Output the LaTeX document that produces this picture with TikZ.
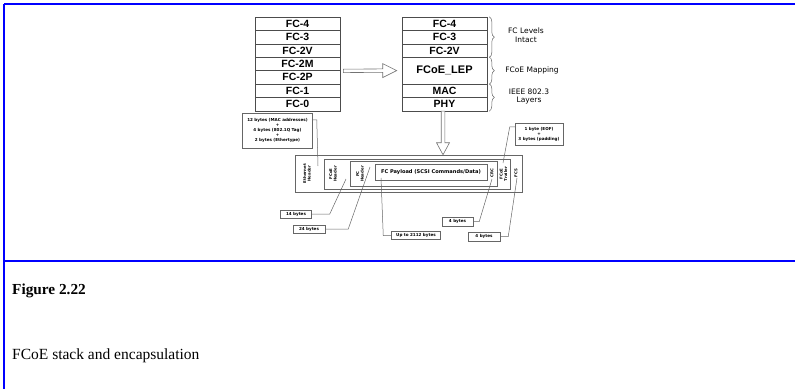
\documentclass[tikz,border=0pt]{standalone}
\usepackage{fontspec}
\setmainfont{Liberation Serif}
\newfontfamily\arialf{Liberation Sans}
\newfontfamily\handf{DejaVu Sans}
\usetikzlibrary{decorations.pathreplacing,calc}
\definecolor{bordblue}{RGB}{0,0,255}
\tikzset{
  layer/.style={draw=black!70, line width=0.6pt, minimum width=85, minimum height=13.4, inner sep=0pt,
    font=\arialf\bfseries\fontsize{10.5}{12}\selectfont},
  blockarrow/.style={draw=black!55, line width=0.6pt, fill=white},
  bracestyle/.style={draw=black!60, line width=0.5pt, decorate, decoration={brace, amplitude=5pt}},
  bracelab/.style={font=\handf\fontsize{7.5}{8.7}\selectfont, align=center, inner sep=0pt},
  framebox/.style={draw=black!60, line width=0.5pt, inner sep=0pt},
  vlab/.style={font=\handf\bfseries\fontsize{3.9}{4.5}\selectfont, align=center, rotate=90, inner sep=0pt},
  tag/.style={draw=black!60, line width=0.5pt, font=\handf\bfseries\fontsize{4.1}{5.1}\selectfont, align=center, inner sep=1pt},
  lead/.style={draw=black!60, line width=0.5pt},
  blueline/.style={draw=bordblue, line width=2pt}
}
\begin{document}
\begin{tikzpicture}[x=1pt,y=-1pt]
\useasboundingbox (0,0) rectangle (795,389);
% blue border lines
\draw[blueline] (4,4) -- (795,4);
\draw[blueline] (4,4) -- (4,389);
\draw[blueline] (4,260.5) -- (795,260.5);

% left stack
\node[layer] (l1) at (297.5,23.7) {FC-4};
\node[layer] (l2) at (297.5,37.1) {FC-3};
\node[layer] (l3) at (297.5,50.5) {FC-2V};
\node[layer] (l4) at (297.5,63.9) {FC-2M};
\node[layer] (l5) at (297.5,77.3) {FC-2P};
\node[layer] (l6) at (297.5,90.7) {FC-1};
\node[layer] (l7) at (297.5,104.1) {FC-0};

% right stack
\node[layer] (r1) at (444.5,23.7) {FC-4};
\node[layer] (r2) at (444.5,37.1) {FC-3};
\node[layer] (r3) at (444.5,50.5) {FC-2V};
\node[layer, minimum height=26.8, font=\arialf\bfseries\fontsize{11}{13}\selectfont] (r4) at (444.5,70.6) {FCoE\_LEP};
\node[layer] (r5) at (444.5,90.7) {MAC};
\node[layer] (r6) at (444.5,104.1) {PHY};

% right hollow arrow
\coordinate (ra1) at ($(l4.south east)+(3,0)$);
\coordinate (ra2) at ($(r4.west)+(-5,0)$);
\draw[blockarrow] ($(ra1)+(0,-1.7)$) -- ($(ra2)+(-14,-1.7)$) -- ($(ra2)+(-14,-7)$) -- (ra2)
  -- ($(ra2)+(-14,7)$) -- ($(ra2)+(-14,1.7)$) -- ($(ra1)+(0,1.7)$) -- cycle;

% braces and labels
\draw[bracestyle] ([xshift=2]r1.north east) -- ([xshift=2]r3.south east);
\draw[bracestyle] ([xshift=2]r4.north east) -- ([xshift=2]r4.south east);
\draw[bracestyle] ([xshift=2]r5.north east) -- ([xshift=2]r6.south east);
\node[bracelab] (b1) at (526,35) {FC Levels\\Intact};
\node[bracelab] (b2) at (532,70.5) {FCoE Mapping};
\node[bracelab] (b3) at (529,96.5) {IEEE 802.3\\Layers};

% frame
\node[framebox, minimum width=227, minimum height=37] (eth) at (408.5,173.5) {};
\node[framebox, minimum width=186, minimum height=30] (fcoe) at (417,174) {};
\node[framebox, minimum width=147, minimum height=25] (fcb) at (423.5,174) {};
\node[framebox, minimum width=112, minimum height=16, font=\handf\bfseries\fontsize{5.1}{6}\selectfont] (pay) at (431,172.5) {FC Payload (SCSI Commands/Data)};
\node[vlab] (ethh) at (307,173.5) {Ethernet\\Header};
\node[vlab] (fcoeh) at (333,174) {FCoE\\Header};
\node[vlab] (fch) at (360,174) {FC\\Header};
\node[vlab] (crc) at (492,173) {CRC};
\node[vlab] (fcoet) at (503.5,174) {FCoE\\Trailer};
\node[vlab] (fcs) at (516,173) {FCS};

% down hollow arrow
\coordinate (da1) at ($(r6.south)+(-1.5,0)$);
\coordinate (da2) at ($(eth.north)+(34.5,0)$);
\draw[blockarrow] ($(da1)+(-1.8,0)$) -- ($(da2)+(-1.8,-12)$) -- ($(da2)+(-6.5,-12)$) -- (da2)
  -- ($(da2)+(6.5,-12)$) -- ($(da2)+(1.8,-12)$) -- ($(da1)+(1.8,0)$) -- cycle;

% tags
\node[tag, minimum width=70, minimum height=35] (t12) at (277.5,130.5)
  {12 bytes (MAC addresses)\\+\\4 bytes (802.1Q Tag)\\+\\2 bytes (Ethertype)};
\node[tag, minimum width=48, minimum height=22] (teof) at (539,134)
  {1 byte (EOF)\\+\\3 bytes (padding)};
\node[tag, minimum width=31, minimum height=8.5] (t14) at (296,214) {14 bytes};
\node[tag, minimum width=32, minimum height=8.5] (t24) at (309,229) {24 bytes};
\node[tag, minimum width=49, minimum height=8] (t2112) at (416,235.5) {Up to 2112 bytes};
\node[tag, minimum width=31, minimum height=8.5] (tcrc) at (457.5,221.5) {4 bytes};
\node[tag, minimum width=32, minimum height=8.5] (tfcs) at (484,236.5) {4 bytes};

% leader end points
\coordinate (e12) at (318,166);
\coordinate (eeof) at (503,163);
\coordinate (e14) at (346,179);
\coordinate (e24) at (370,167);
\coordinate (e2112) at (381,178);
\coordinate (ecrc) at (492,179);
\coordinate (efcs) at (517,178);

\draw[lead] ($(t12.north east)+(0,7)$) -- ++(4,0) -- (e12);
\draw[lead] ($(teof.north west)+(0,4)$) -- ++(-5,0) -- (eeof);
\draw[lead] (t14.east) -- ++(18,0) -- (e14);
\draw[lead] (t24.east) -- ++(23,0) -- (e24);
\draw[lead] (t2112.west) -- ++(-8,0) -- (e2112);
\draw[lead] (tcrc.east) -- ++(6,0) -- (ecrc);
\draw[lead] (tfcs.east) -- ++(8,0) -- (efcs);

% caption
\node[anchor=base west, inner sep=0pt, font=\bfseries\fontsize{15.3}{18}\selectfont] (figno) at (12,294) {Figure 2.22};
\node[anchor=base west, inner sep=0pt, font=\fontsize{15.5}{18}\selectfont] (figcap) at (12,359) {FCoE stack and encapsulation};
\end{tikzpicture}
\end{document}
